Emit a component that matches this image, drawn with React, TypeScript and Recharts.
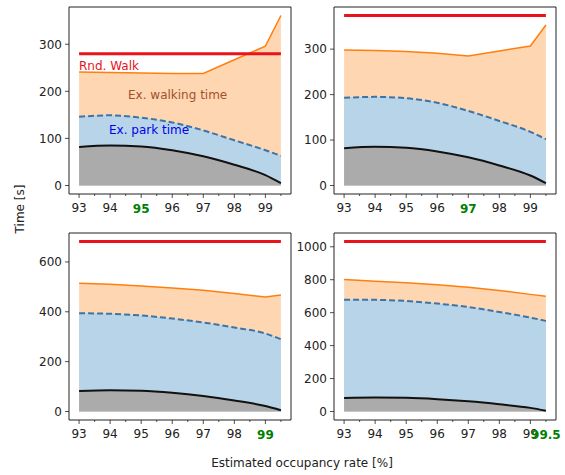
import { Area, ComposedChart, Line, ReferenceArea, XAxis, YAxis } from "recharts";

// occupancy rate [%] sampled for every panel
const occupancy = [93, 94, 95, 96, 97, 98, 99, 99.5];
const xTicks = [93, 93.5, 94, 94.5, 95, 95.5, 96, 96.5, 97, 97.5, 98, 98.5, 99, 99.5];

// driving time to the lot is the same in all four scenarios [s]
const driveTime = [82, 85, 83, 75, 62, 44, 22, 5];

// scenario A
const parkA = [146, 149, 144, 134, 117, 96, 75, 63];
const walkA = [241, 240, 239, 238, 238, 267, 296, 361];
const rndA = 280;
const yTicksA = [0, 100, 200, 300];

// scenario B
const parkB = [193, 195, 192, 182, 164, 142, 118, 102];
const walkB = [298, 297, 295, 291, 285, 296, 307, 353];
const rndB = 374;
const yTicksB = [0, 100, 200, 300];

// scenario C
const parkC = [394, 392, 385, 373, 357, 337, 313, 290];
const walkC = [515, 510, 503, 495, 486, 473, 459, 467];
const rndC = 682;
const yTicksC = [0, 200, 400, 600];

// scenario D
const parkD = [679, 678, 671, 655, 634, 604, 570, 550];
const walkD = [801, 791, 781, 769, 755, 735, 711, 700];
const rndD = 1032;
const yTicksD = [0, 200, 400, 600, 800, 1000];

const FONT = "'DejaVu Sans', sans-serif";
const INK = "#222";
const PLOT_W = 222;
const PLOT_H = 187;
const X_DOMAIN: [number, number] = [92.675, 99.825];

type PanelProps = {
    left: number;
    top: number;
    park: number[];
    walk: number[];
    rnd: number;
    yTicks: number[];
    highlight: number;
};

function XTick(props: any) {
    const { x, y, payload, highlight } = props;
    const v = payload.value as number;
    const major = Number.isInteger(v);
    return (
        <g>
            <line x1={x} x2={x} y1={y} y2={y + (major ? 4 : 2)} stroke={INK} strokeWidth={0.8} />
            {v === highlight ? (
                <text x={x} y={y + 19} textAnchor="middle" fill="#008000" fontWeight="bold" fontSize={12} fontFamily={FONT}>
                    {v}
                </text>
            ) : (
                major && (
                    <text x={x} y={y + 18} textAnchor="middle" fill={INK} fontSize={12} fontFamily={FONT}>
                        {v}
                    </text>
                )
            )}
        </g>
    );
}

function YTick(props: any) {
    const { x, y, payload } = props;
    return (
        <g>
            <line x1={x - 4} x2={x} y1={y} y2={y} stroke={INK} strokeWidth={0.8} />
            <text x={x - 7} y={y + 4.3} textAnchor="end" fill={INK} fontSize={12} fontFamily={FONT}>
                {payload.value}
            </text>
        </g>
    );
}

function Panel({ left, top, park, walk, rnd, yTicks, highlight }: PanelProps) {
    const rows = occupancy.map((x, i) => ({ x, drive: driveTime[i], park: park[i], walk: walk[i], rnd }));
    const yMax = Math.max(rnd, ...walk);
    const yDomain: [number, number] = [-0.05 * yMax, 1.05 * yMax];

    return (
        <div style={{ position: "absolute", left: left - 50, top: top - 5 }}>
            <ComposedChart
                width={PLOT_W + 60}
                height={PLOT_H + 35}
                data={rows}
                margin={{ top: 5, right: 10, bottom: 0, left: 10 }}
            >
                <XAxis
                    dataKey="x"
                    type="number"
                    domain={X_DOMAIN}
                    ticks={xTicks}
                    interval={0}
                    height={30}
                    axisLine={false}
                    tickLine={false}
                    tickSize={0}
                    tickMargin={0}
                    tick={<XTick highlight={highlight} />}
                />
                <YAxis
                    type="number"
                    domain={yDomain}
                    ticks={yTicks}
                    interval={0}
                    width={40}
                    axisLine={false}
                    tickLine={false}
                    tickSize={0}
                    tickMargin={0}
                    tick={<YTick />}
                />
                <Area type="linear" dataKey="walk" baseValue={0} stroke="#ff7f0e" strokeWidth={1.5} fill="#ffd6b2" fillOpacity={1} isAnimationActive={false} />
                <Area type="monotone" dataKey="park" baseValue={0} stroke="#3d74a6" strokeWidth={2} strokeDasharray="6 3" fill="#b8d4e9" fillOpacity={1} isAnimationActive={false} />
                <Area type="monotone" dataKey="drive" baseValue={0} stroke="#111" strokeWidth={2} fill="#ababab" fillOpacity={1} isAnimationActive={false} />
                <Line type="linear" dataKey="rnd" stroke="#e8131b" strokeWidth={3} dot={false} isAnimationActive={false} />
                <ReferenceArea x1={X_DOMAIN[0]} x2={X_DOMAIN[1]} y1={yDomain[0]} y2={yDomain[1]} fill="none" stroke={INK} strokeWidth={1} />
            </ComposedChart>
        </div>
    );
}

export default function App() {
    return (
        <div style={{ position: "absolute", left: 0, top: 0, width: 565, height: 475, overflow: "hidden", background: "#fff" }}>
            <Panel left={69} top={7} park={parkA} walk={walkA} rnd={rndA} yTicks={yTicksA} highlight={95} />
            <Panel left={334} top={7} park={parkB} walk={walkB} rnd={rndB} yTicks={yTicksB} highlight={97} />
            <Panel left={69} top={233} park={parkC} walk={walkC} rnd={rndC} yTicks={yTicksC} highlight={99} />
            <Panel left={334} top={233} park={parkD} walk={walkD} rnd={rndD} yTicks={yTicksD} highlight={99.5} />
            <svg width={565} height={475} style={{ position: "absolute", left: 0, top: 0, pointerEvents: "none" }} fontFamily={FONT} fontSize={12}>
                <text x={79} y={70} fill="#e8131b">Rnd. Walk</text>
                <text x={128} y={98.5} fill="#a0522d">Ex. walking time</text>
                <text x={109} y={134} fill="#0000ee">Ex. park time</text>
                <text x={23.5} y={209} fill={INK} textAnchor="middle" transform="rotate(-90 23.5 209)">Time [s]</text>
                <text x={302} y={467} fill={INK} textAnchor="middle">Estimated occupancy rate [%]</text>
            </svg>
        </div>
    );
}
